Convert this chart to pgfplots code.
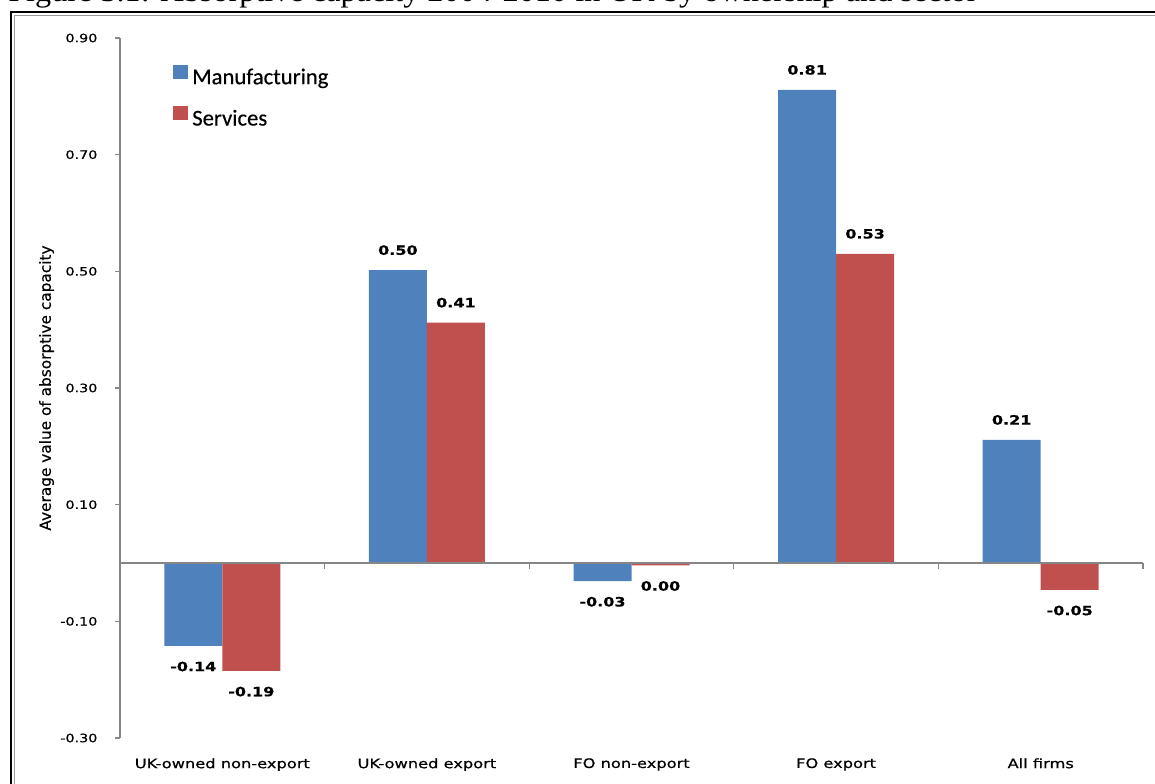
\documentclass[border=0pt]{standalone}
\usepackage{graphicx}
\usepackage{fontspec}
\usepackage{pgfplots}
\usepackage{pgfplotstable}
\pgfplotsset{compat=1.18}
\setmainfont{DejaVu Sans}
\newfontfamily\chartfont[FakeStretch=1.25, FakeBold=0.6]{DejaVu Sans}
\newfontfamily\labfont[FakeBold=0.4]{DejaVu Sans}
\newfontfamily\legfont[FakeBold=0.4]{Carlito}
\newfontfamily\titlefont{Liberation Serif}
\definecolor{mblue}{HTML}{4F81BD}
\definecolor{sred}{HTML}{C0504D}
\definecolor{axgray}{HTML}{868686}

\pgfplotstableread{
x y lbl
0 -0.142 -0.14
1 0.502 0.50
2 -0.031 -0.03
3 0.811 0.81
4 0.211 0.21
}\manuf
\pgfplotstableread{
x y lbl
0 -0.185 -0.19
1 0.412 0.41
2 -0.004 0.00
3 0.530 0.53
4 -0.046 -0.05
}\serv

\begin{document}
\begin{tikzpicture}
\useasboundingbox (0,0) rectangle (866.25pt,587.25pt);
\clip (0,0) rectangle (866.25pt,587.25pt);
\node[anchor=base west, inner sep=0pt] at (6pt,585.8pt) {\resizebox{726.75pt}{16pt}{\titlefont Figure 3.1: Absorptive capacity 2004-2010 in UK by ownership and sector}};
\draw[black, line width=0.9pt] (8.25pt,-20pt) -- (8.25pt,578.25pt) -- (900pt,578.25pt);
\draw[black!40, line width=0.9pt] (10.9pt,-20pt) -- (10.9pt,575.6pt) -- (900pt,575.6pt);
\begin{axis}[
  at={(90pt,33.75pt)}, anchor=south west,
  width=767.25pt, height=525pt, scale only axis,
  xmin=-0.5, xmax=4.5, ymin=-0.3, ymax=0.9,
  ybar=0pt, bar width=43.5pt,
  axis y line*=left, axis x line*=bottom,
  x axis line style={draw=none},
  y axis line style={axgray, line width=1pt, -},
  xtick={0,1,2,3,4},
  xticklabels={UK-owned non-export, UK-owned export, FO non-export, FO export, All firms},
  major x tick style={draw=none},
  ytick={-0.3,-0.1,0.1,0.3,0.5,0.7,0.9},
  yticklabels={-0.30,-0.10,0.10,0.30,0.50,0.70,0.90},
  major y tick style={axgray, line width=1pt},
  tick align=outside, major tick length=3.75pt,
  yticklabel style={font=\chartfont\fontsize{8.6}{10}\selectfont, anchor=east, inner sep=0pt, xshift=-13pt},
  xticklabel style={font=\chartfont\fontsize{9.75}{12}\selectfont, anchor=north, inner sep=0pt, yshift=-11.25pt},
  ylabel={Average value of absorptive capacity},
  ylabel style={font=\labfont\fontsize{11.5}{13}\selectfont, at={(axis description cs:-0.0718,0.5)}, anchor=center},
  legend style={at={(0.0518,0.962)}, anchor=north west, draw=none, fill=none, inner sep=0pt, row sep=12.5pt,
    font=\legfont\fontsize{17}{20}\selectfont,
    nodes={inner sep=0pt, text height=12pt, text depth=4pt},
    /tikz/every odd column/.append style={column sep=3pt}},
  legend cell align=left,
  legend image code/.code={\fill[#1] (0pt,0pt) rectangle (11.25pt,10.5pt);},
  clip=false,
  point meta=explicit symbolic,
  nodes near coords,
  visualization depends on={rawy \as \rawy},
  every node near coord/.append style={font=\chartfont\bfseries\fontsize{9.6}{11}\selectfont, text=black, anchor=center, inner sep=0pt, yshift={(\rawy<0 ? -15.5pt : 15pt)}},
]
\addplot[fill=mblue, draw=none] table[x=x,y=y,meta=lbl] {\manuf};
\addlegendentry{Manufacturing}
\addplot[fill=sred, draw=none] table[x=x,y=y,meta=lbl] {\serv};
\addlegendentry{Services}
\draw[axgray, line width=1pt] (axis cs:-0.5,0) -- (axis cs:4.5,0);
\draw[axgray, line width=1pt] (axis cs:0.5,0) -- ++(0pt,-4.5pt);
\draw[axgray, line width=1pt] (axis cs:1.5,0) -- ++(0pt,-4.5pt);
\draw[axgray, line width=1pt] (axis cs:2.5,0) -- ++(0pt,-4.5pt);
\draw[axgray, line width=1pt] (axis cs:3.5,0) -- ++(0pt,-4.5pt);
\draw[axgray, line width=1pt] (axis cs:4.5,0) -- ++(0pt,-4.5pt);
\end{axis}
\end{tikzpicture}
\end{document}
